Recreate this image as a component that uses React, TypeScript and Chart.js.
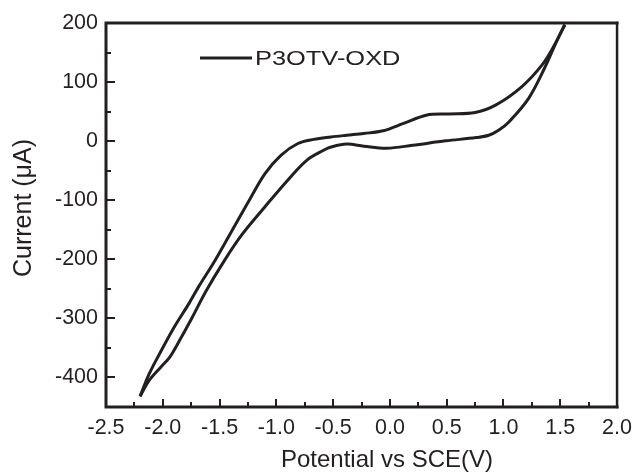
import React, { useEffect, useRef } from "react";
import { Chart, registerables } from "chart.js";

Chart.register(...registerables);

const seriesLabel = "P3OTV-OXD";
const xAxisTitle = "Potential vs SCE(V)";
const yAxisTitle = "Current (μA)";

// Forward (upper) branch: from negative vertex to positive vertex
const forwardPotential = [
  -2.2, -2.12, -2.02, -1.9, -1.77, -1.68, -1.54, -1.36, -1.25, -1.1, -0.96, -0.81,
  -0.67, -0.52, -0.38, -0.23, -0.06, 0.12, 0.32, 0.52, 0.75, 0.93, 1.16, 1.34, 1.45, 1.54,
];
const forwardCurrent = [
  -432, -394, -357, -315, -275, -245, -202, -141, -104, -55, -24, -4,
  3, 7, 10, 13, 17.5, 30, 44, 46, 48.5, 61, 92, 129, 163, 197,
];

// Reverse (lower) branch: from positive vertex back to negative vertex
const reversePotential = [
  1.54, 1.48, 1.36, 1.22, 1.05, 0.96, 0.87, 0.76, 0.49, 0.2, -0.03, -0.23, -0.38, -0.52,
  -0.58, -0.73, -0.9, -1.1, -1.31, -1.47, -1.62, -1.74, -1.86, -1.94, -2.02, -2.12, -2.2,
];
const reverseCurrent = [
  197, 174, 123, 72, 33, 19, 10, 6, 0.5, -7, -12, -8.5, -5, -10,
  -15, -32, -66, -111, -160, -206, -254, -298, -340, -366, -383, -405, -432,
];

const xTickValues = [-2.5, -2.0, -1.5, -1.0, -0.5, 0.0, 0.5, 1.0, 1.5, 2.0];
const yTickValues = [-400, -300, -200, -100, 0, 100, 200];

const INK = "#231f20";
const FONT_FAMILY = "'Liberation Sans', Arial, Helvetica, sans-serif";

const framePlugin = {
  id: "frameTicksLegend",
  afterDraw(chart: any) {
    const { ctx, chartArea } = chart;
    const { left, right, top, bottom } = chartArea;
    const xs = chart.scales.x;
    const ys = chart.scales.y;
    ctx.save();
    ctx.strokeStyle = INK;
    ctx.lineCap = "butt";

    // inward ticks
    ctx.lineWidth = 2;
    const xMinor: number[] = [];
    for (let i = 0; i < xTickValues.length - 1; i++) xMinor.push((xTickValues[i] + xTickValues[i + 1]) / 2);
    const yMinor: number[] = [];
    for (let i = 0; i < yTickValues.length - 1; i++) yMinor.push((yTickValues[i] + yTickValues[i + 1]) / 2);

    ctx.beginPath();
    xTickValues.forEach((v) => {
      const px = Math.round(xs.getPixelForValue(v));
      ctx.moveTo(px, bottom);
      ctx.lineTo(px, bottom - 8);
    });
    xMinor.forEach((v) => {
      const px = Math.round(xs.getPixelForValue(v));
      ctx.moveTo(px, bottom);
      ctx.lineTo(px, bottom - 5);
    });
    yTickValues.forEach((v) => {
      const py = Math.round(ys.getPixelForValue(v));
      ctx.moveTo(left, py);
      ctx.lineTo(left + 9, py);
    });
    yMinor.forEach((v) => {
      const py = Math.round(ys.getPixelForValue(v));
      ctx.moveTo(left, py);
      ctx.lineTo(left + 5, py);
    });
    ctx.stroke();

    // frame
    ctx.lineWidth = 3;
    ctx.lineCap = "square";
    ctx.beginPath();
    ctx.moveTo(right, top);
    ctx.lineTo(left, top);
    ctx.lineTo(left, bottom);
    ctx.lineTo(right, bottom);
    ctx.stroke();
    ctx.lineWidth = 2.5;
    ctx.beginPath();
    ctx.moveTo(right, top);
    ctx.lineTo(right, bottom);
    ctx.stroke();

    // legend
    const ds = chart.data.datasets[0];
    const ly = top + 35;
    const lx = left + 94;
    ctx.lineWidth = 3;
    ctx.lineCap = "butt";
    ctx.beginPath();
    ctx.moveTo(lx, ly);
    ctx.lineTo(lx + 52, ly);
    ctx.stroke();
    ctx.fillStyle = INK;
    ctx.textAlign = "left";
    ctx.textBaseline = "middle";
    ctx.save();
    ctx.translate(lx + 55, ly + 1);
    ctx.scale(1.21, 1);
    ctx.font = `21px ${FONT_FAMILY}`;
    ctx.fillText(ds.label, 0, 0);
    ctx.restore();

    // axis titles
    ctx.font = `24px ${FONT_FAMILY}`;
    ctx.textAlign = "center";
    ctx.textBaseline = "middle";
    ctx.fillText(xAxisTitle, left + 281, bottom + 53);
    ctx.save();
    ctx.translate(left - 82, top + 185);
    ctx.rotate(-Math.PI / 2);
    ctx.font = `25px ${FONT_FAMILY}`;
    ctx.fillText(yAxisTitle, 0, 0);
    ctx.restore();

    ctx.restore();
  },
};

export default function App() {
  const canvasRef = useRef<HTMLCanvasElement | null>(null);

  useEffect(() => {
    document.body.style.margin = "0";
    const canvas = canvasRef.current;
    if (!canvas) return;

    const forwardPoints = forwardPotential.map((x, i) => ({ x, y: forwardCurrent[i] }));
    const reversePoints = reversePotential.map((x, i) => ({ x, y: reverseCurrent[i] }));

    const tickFont = { family: FONT_FAMILY, size: 21.5 };

    const lineStyle = {
      borderColor: INK,
      backgroundColor: INK,
      borderWidth: 3,
      pointRadius: 0,
      tension: 0.35,
      fill: false,
    };

    const chart = new Chart(canvas, {
      type: "line",
      data: {
        datasets: [
          { label: seriesLabel, data: forwardPoints, ...lineStyle },
          { label: seriesLabel, data: reversePoints, ...lineStyle },
        ],
      },
      options: {
        animation: false,
        responsive: false,
        maintainAspectRatio: false,
        layout: { padding: { top: 23, right: 17, left: 0, bottom: 0 } },
        plugins: {
          legend: { display: false },
          tooltip: { enabled: false },
        },
        scales: {
          x: {
            type: "linear",
            min: -2.5,
            max: 2.0,
            afterBuildTicks: (s: any) => {
              s.ticks = xTickValues.map((v) => ({ value: v }));
            },
            afterFit: (s: any) => {
              s.height = 67;
            },
            grid: { display: false, drawTicks: false },
            border: { display: false },
            ticks: {
              padding: 8,
              color: INK,
              font: tickFont,
              maxRotation: 0,
              autoSkip: false,
              callback: (v: any) => Number(v).toFixed(1),
            },
          },
          y: {
            type: "linear",
            min: -450,
            max: 200,
            afterBuildTicks: (s: any) => {
              s.ticks = yTickValues.map((v) => ({ value: v }));
            },
            afterFit: (s: any) => {
              s.width = 106;
            },
            grid: { display: false, drawTicks: false },
            border: { display: false },
            ticks: {
              padding: 8,
              color: INK,
              font: tickFont,
              autoSkip: false,
              callback: (v: any) => String(v),
            },
          },
        },
      },
      plugins: [framePlugin],
    });

    return () => chart.destroy();
  }, []);

  return (
    <div style={{ width: 640, height: 474, background: "#fff" }}>
      <canvas ref={canvasRef} width={640} height={474} style={{ display: "block" }} />
    </div>
  );
}
